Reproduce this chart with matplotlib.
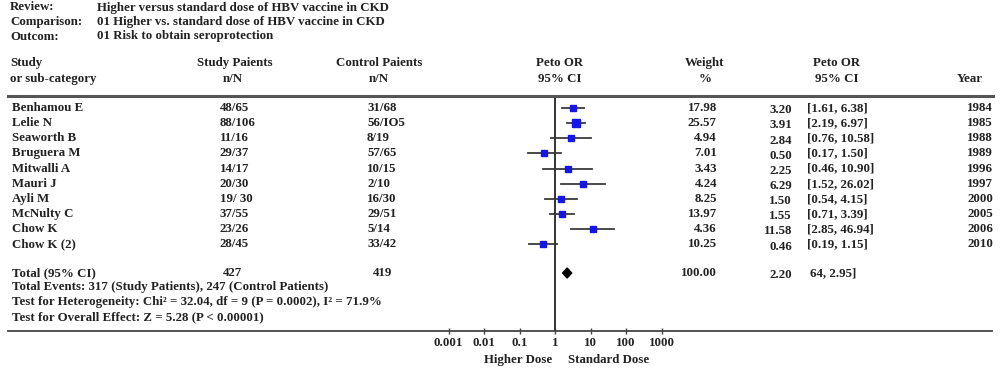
import numpy as np
import matplotlib
matplotlib.use("Agg")
import matplotlib.pyplot as plt
from matplotlib.transforms import blended_transform_factory

# ---------------- data ----------------
studies = ["Benhamou E", "Lelie N", "Seaworth B", "Bruguera M", "Mitwalli A",
           "Mauri J", "Ayli M", "McNulty C", "Chow K", "Chow K (2)"]
study_nN = ["48/65", "88/106", "11/16", "29/37", "14/17", "20/30", "19/ 30",
            "37/55", "23/26", "28/45"]
control_nN = ["31/68", "56/IO5", "8/19", "57/65", "10/15", "2/10", "16/30",
              "29/51", "5/14", "33/42"]
weights = [17.98, 25.57, 4.94, 7.01, 3.43, 4.24, 8.25, 13.97, 4.36, 10.25]
peto_or = [3.20, 3.91, 2.84, 0.50, 2.25, 6.29, 1.50, 1.55, 11.58, 0.46]
ci_low = [1.61, 2.19, 0.76, 0.17, 0.46, 1.52, 0.54, 0.71, 2.85, 0.19]
ci_high = [6.38, 6.97, 10.58, 1.50, 10.90, 26.02, 4.15, 3.39, 46.94, 1.15]
years = [1984, 1985, 1988, 1989, 1996, 1997, 2000, 2005, 2006, 2010]

total_study_N = 427
total_control_N = 419
total_weight = 100.00
total_or = 2.20
total_low = 1.64
total_high = 2.95
total_ci_text = "64, 2.95]"

tick_values = [0.001, 0.01, 0.1, 1, 10, 100, 1000]
tick_labels = ["0.001", "0.01", "0.1", "1", "10", "100", "1000"]

header_keys = ["Review:", "Comparison:", "Outcom:"]
header_vals = ["Higher versus standard dose of HBV vaccine in CKD",
               "01 Higher vs. standard dose of HBV vaccine in CKD",
               "01 Risk to obtain seroprotection"]
footnotes = ["Total Events: 317 (Study Patients), 247 (Control Patients)",
             "Test for Heterogeneity: Chi\u00b2 = 32.04, df = 9 (P = 0.0002), I\u00b2 = 71.9%",
             "Test for Overall Effect: Z = 5.28 (P < 0.00001)"]

# ---------------- layout ----------------
W, H = 1000, 368
fig = plt.figure(figsize=(W / 100, H / 100), dpi=100)
plt.rcParams['font.family'] = ['Liberation Serif', 'DejaVu Serif']
FS = 9.3
TXT = "#222222"
FW = "bold"

def fx(px):
    return px / W

def fy(py):
    return 1 - py / H

# forest axes: left 8px, right 992px, top 96px, bottom 331px
ax_l, ax_r, ax_t, ax_b = 8, 992, 96, 331
ax = fig.add_axes([fx(ax_l), fy(ax_b), (ax_r - ax_l) / W, (ax_b - ax_t) / H])
x_one = 555.0
decade = 35.5
ax.set_xscale("log")
ax.set_xlim(10 ** ((ax_l - x_one) / decade), 10 ** ((ax_r - x_one) / decade))
row0, row_step = 108.0, 15.15
def row_of(py):
    return (py - row0) / row_step
ax.set_ylim(row_of(ax_b), row_of(ax_t))
ax.patch.set_alpha(0)
for s in ["top", "left", "right"]:
    ax.spines[s].set_visible(False)
ax.spines["bottom"].set_color("#444444")
ax.spines["bottom"].set_linewidth(1.3)
ax.set_yticks([])
ax.set_xticks(tick_values)
ax.set_xticklabels(tick_labels, fontsize=9.3, fontweight=FW, color=TXT)
ax.minorticks_off()
ax.tick_params(axis="x", direction="inout", length=5, width=1, color="#444444", pad=2)

# vertical line at 1
ax.axvline(1, color="#333333", lw=1.4, zorder=2)

rows = np.arange(len(studies))
for i in rows:
    ax.plot([ci_low[i], ci_high[i]], [i, i], color="#3a3a3a", lw=1.3, zorder=3)
    size = (4.8 + weights[i] * 0.12) * 0.72
    ax.plot(peto_or[i], i, marker="s", ms=size, color="#1515e6", mec="#1515e6", zorder=4)

# total diamond
ty = row_of(273)
h = 0.33
ax.fill([total_low, total_or, total_high, total_or], [ty, ty - h, ty, ty + h],
        color="black", zorder=4)

# ---------------- text ----------------
def ftext(px, py, s, ha="left", **kw):
    fig.text(fx(px), fy(py), s, ha=ha, va="center", fontsize=FS, fontweight=FW,
             color=TXT, **kw)

for k, (key, val) in enumerate(zip(header_keys, header_vals)):
    y = 7.5 + 14.5 * k
    ftext(10, y, key)
    ftext(97, y, val)

ftext(10, 63, "Study")
ftext(10, 79, "or sub-category")
ftext(235, 63, "Study Paients", ha="center")
ftext(233, 79, "n/N", ha="center")
ftext(379, 63, "Control Paients", ha="center")
ftext(379, 79, "n/N", ha="center")
ftext(560, 63, "Peto OR", ha="center")
ftext(560, 79, "95% CI", ha="center")
ftext(705, 63, "Weight", ha="center")
ftext(705, 79, "%", ha="center")
ftext(837, 63, "Peto OR", ha="center")
ftext(837, 79, "95% CI", ha="center")
ftext(983, 79, "Year", ha="right")

# header rule
fig.add_artist(plt.Line2D([fx(8), fx(993)], [fy(96), fy(96)], color="#555555", lw=2.2))

tr = blended_transform_factory(fig.transFigure, ax.transData)
def rtext(px, row, s, ha="left"):
    ax.text(fx(px), row, s, transform=tr, ha=ha, va="center", fontsize=FS,
            fontweight=FW, color=TXT, clip_on=False)

for i in rows:
    rtext(12, i, studies[i])
    rtext(220, i, study_nN[i])
    rtext(367, i, control_nN[i])
    rtext(717, i, f"{weights[i]:.2f}", ha="right")
    rtext(792, i + 0.15, f"{peto_or[i]:.2f}", ha="right")
    rtext(807, i, f"[{ci_low[i]:.2f}, {ci_high[i]:.2f}]")
    rtext(993, i, f"{years[i]}", ha="right")

rtext(12, ty, "Total (95% CI)")
rtext(223, ty, f"{total_study_N}")
rtext(373, ty, f"{total_control_N}")
rtext(717, ty, f"{total_weight:.2f}", ha="right")
rtext(792, ty + 0.15, f"{total_or:.2f}", ha="right")
rtext(810, ty, total_ci_text)

for k, s in enumerate(footnotes):
    rtext(12, row_of(287 + 15 * k), s)

ftext(552, 360, "Higher Dose", ha="right")
ftext(568, 360, "Standard Dose", ha="left")

fig.savefig("out.png", dpi=100)
